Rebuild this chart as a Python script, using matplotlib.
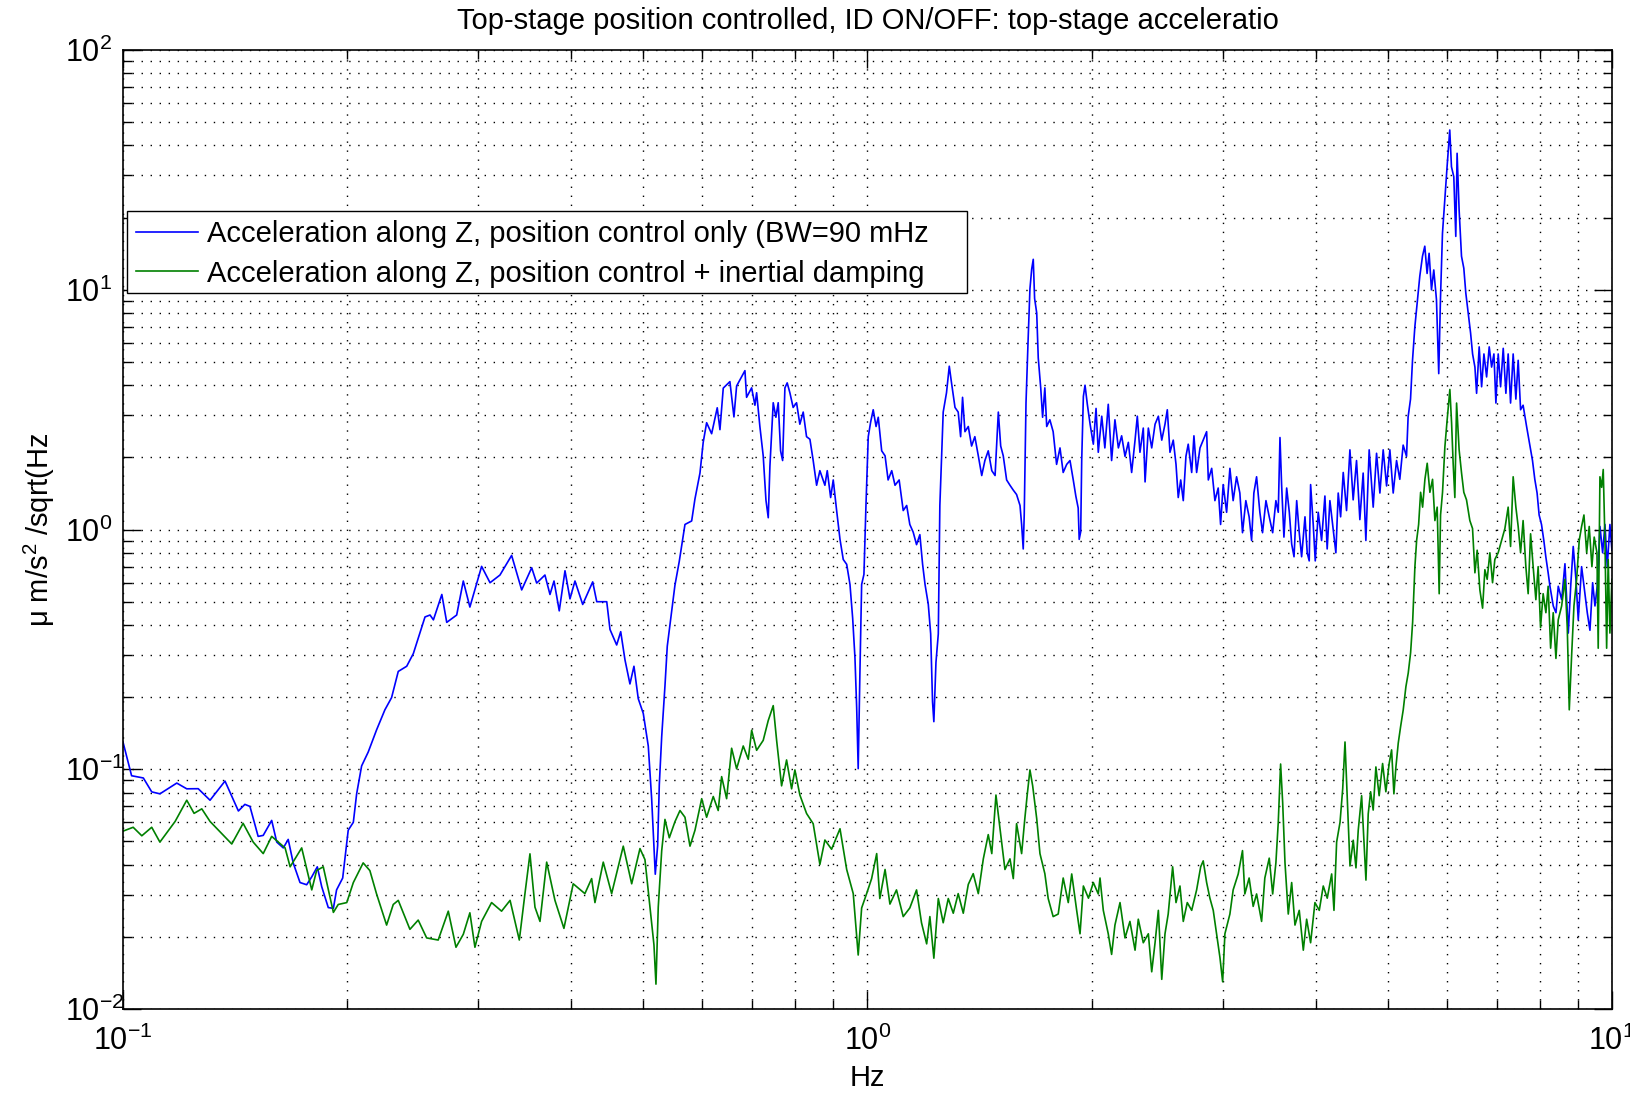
import matplotlib
matplotlib.use("Agg")
import matplotlib.pyplot as plt
from matplotlib.ticker import LogLocator, NullFormatter
from matplotlib.patches import Rectangle

# spectrum: frequency (Hz) and acceleration (um/s^2/sqrt(Hz))
freq_blue = [
    0.1000, 0.1027, 0.1065, 0.1093, 0.1121, 0.1181, 0.1218, 0.1262, 0.1309, 0.1371,
    0.1429, 0.1458, 0.1481, 0.1519, 0.1543, 0.1584, 0.1609, 0.1642, 0.1667, 0.1693,
    0.1729, 0.1765, 0.1793, 0.1824, 0.1849, 0.1887, 0.1917, 0.1936, 0.1973, 0.1987,
    0.2007, 0.2039, 0.2060, 0.2092, 0.2135, 0.2191, 0.2248, 0.2295, 0.2343, 0.2405,
    0.2455, 0.2545, 0.2585, 0.2612, 0.2681, 0.2722, 0.2807, 0.2865, 0.2924, 0.3032,
    0.3112, 0.3209, 0.3327, 0.3432, 0.3540, 0.3595, 0.3688, 0.3746, 0.3793, 0.3855,
    0.3924, 0.3985, 0.4047, 0.4145, 0.4275, 0.4329, 0.4465, 0.4510, 0.4604, 0.4662,
    0.4724, 0.4797, 0.4857, 0.4922, 0.4999, 0.5077, 0.5130, 0.5167, 0.5188, 0.5226,
    0.5253, 0.5292, 0.5346, 0.5384, 0.5429, 0.5513, 0.5587, 0.5687, 0.5806, 0.5865,
    0.5957, 0.6017, 0.6081, 0.6176, 0.6284, 0.6337, 0.6402, 0.6535, 0.6617, 0.6672,
    0.6846, 0.6881, 0.6989, 0.7061, 0.7098, 0.7170, 0.7244, 0.7306, 0.7358, 0.7396,
    0.7472, 0.7534, 0.7588, 0.7644, 0.7692, 0.7747, 0.7802, 0.7867, 0.7947, 0.8031,
    0.8113, 0.8198, 0.8283, 0.8370, 0.8455, 0.8545, 0.8632, 0.8767, 0.8831, 0.8924,
    0.8996, 0.9091, 0.9186, 0.9279, 0.9378, 0.9474, 0.9553, 0.9621, 0.9672, 0.9718,
    0.9770, 0.9822, 0.9892, 0.9954, 1.0025, 1.010, 1.018, 1.027, 1.034, 1.045,
    1.056, 1.066, 1.078, 1.089, 1.103, 1.117, 1.129, 1.140, 1.152, 1.164,
    1.176, 1.186, 1.195, 1.207, 1.216, 1.223, 1.228, 1.236, 1.245, 1.251,
    1.264, 1.277, 1.288, 1.297, 1.311, 1.324, 1.334, 1.342, 1.352, 1.366,
    1.380, 1.394, 1.409, 1.424, 1.438, 1.453, 1.469, 1.484, 1.499, 1.510,
    1.522, 1.538, 1.554, 1.570, 1.586, 1.603, 1.611, 1.619, 1.624, 1.633,
    1.644, 1.653, 1.662, 1.670, 1.677, 1.688, 1.696, 1.709, 1.719, 1.731,
    1.741, 1.758, 1.776, 1.795, 1.814, 1.832, 1.852, 1.871, 1.890, 1.905,
    1.919, 1.925, 1.934, 1.940, 1.950, 1.960, 1.974, 1.991, 2.011, 2.028,
    2.042, 2.064, 2.084, 2.106, 2.128, 2.150, 2.173, 2.195, 2.218, 2.241,
    2.264, 2.288, 2.304, 2.323, 2.347, 2.360, 2.384, 2.409, 2.434, 2.459,
    2.485, 2.510, 2.528, 2.549, 2.575, 2.597, 2.615, 2.635, 2.656, 2.678,
    2.697, 2.726, 2.745, 2.768, 2.797, 2.825, 2.855, 2.870, 2.900, 2.929,
    2.959, 2.981, 3.005, 3.037, 3.068, 3.099, 3.132, 3.164, 3.190, 3.223,
    3.256, 3.281, 3.304, 3.332, 3.366, 3.394, 3.430, 3.465, 3.502, 3.537,
    3.563, 3.582, 3.600, 3.626, 3.657, 3.687, 3.714, 3.741, 3.772, 3.802,
    3.830, 3.870, 3.897, 3.921, 3.938, 3.970, 3.995, 4.032, 4.074, 4.116,
    4.145, 4.180, 4.216, 4.258, 4.289, 4.321, 4.356, 4.401, 4.447, 4.492,
    4.539, 4.586, 4.633, 4.672, 4.720, 4.779, 4.829, 4.879, 4.929, 4.981,
    5.032, 5.084, 5.137, 5.189, 5.243, 5.298, 5.324, 5.364, 5.397, 5.436,
    5.475, 5.520, 5.566, 5.606, 5.646, 5.681, 5.723, 5.764, 5.812, 5.853,
    5.884, 5.921, 5.963, 6.006, 6.056, 6.088, 6.132, 6.170, 6.195, 6.234,
    6.280, 6.325, 6.364, 6.412, 6.459, 6.499, 6.546, 6.580, 6.633, 6.683,
    6.731, 6.787, 6.842, 6.893, 6.942, 6.985, 7.035, 7.087, 7.145, 7.204,
    7.255, 7.309, 7.368, 7.430, 7.483, 7.539, 7.598, 7.679, 7.757, 7.822,
    7.878, 7.934, 7.984, 8.043, 8.101, 8.151, 8.210, 8.256, 8.341, 8.411,
    8.471, 8.561, 8.648, 8.738, 8.803, 8.872, 8.947, 9.011, 9.105, 9.200,
    9.266, 9.343, 9.421, 9.489, 9.557, 9.637, 9.717, 9.787, 9.857, 9.938,
    10.0,
]
acc_blue = [
    0.130, 0.094, 0.092, 0.0805, 0.079, 0.0876, 0.0829, 0.083, 0.0743, 0.0893,
    0.067, 0.0714, 0.070, 0.0525, 0.053, 0.0612, 0.0497, 0.047, 0.051, 0.0407,
    0.0337, 0.033, 0.0356, 0.0392, 0.0324, 0.0265, 0.0263, 0.0314, 0.0352, 0.0426,
    0.0557, 0.0601, 0.079, 0.1033, 0.118, 0.146, 0.177, 0.199, 0.256, 0.269,
    0.304, 0.432, 0.44, 0.42, 0.536, 0.41, 0.44, 0.61, 0.475, 0.702,
    0.60, 0.646, 0.78, 0.56, 0.693, 0.598, 0.646, 0.536, 0.61, 0.458,
    0.673, 0.514, 0.61, 0.487, 0.605, 0.50, 0.50, 0.383, 0.33, 0.375,
    0.286, 0.227, 0.269, 0.197, 0.171, 0.125, 0.0756, 0.0478, 0.0365, 0.048,
    0.0862, 0.1367, 0.223, 0.326, 0.40, 0.585, 0.735, 1.05, 1.086, 1.34,
    1.72, 2.31, 2.79, 2.51, 3.22, 2.61, 3.89, 4.14, 2.95, 3.97,
    4.60, 3.56, 3.90, 3.30, 3.72, 2.69, 2.03, 1.325, 1.12, 1.84,
    3.38, 2.94, 3.38, 2.13, 1.94, 3.90, 4.09, 3.72, 3.23, 3.38,
    2.75, 3.09, 2.44, 2.38, 1.94, 1.53, 1.76, 1.53, 1.76, 1.36,
    1.61, 1.20, 0.91, 0.75, 0.716, 0.59, 0.427, 0.292, 0.1816, 0.1006,
    0.254, 0.59, 0.65, 1.26, 2.44, 2.81, 3.16, 2.69, 2.94, 2.13,
    2.03, 1.61, 1.76, 1.53, 1.61, 1.20, 1.26, 1.05, 0.975, 0.865,
    0.952, 0.716, 0.59, 0.488, 0.367, 0.1913, 0.158, 0.279, 0.367, 1.26,
    3.09, 3.72, 4.80, 4.09, 3.23, 3.09, 2.44, 3.56, 2.56, 2.69,
    2.23, 2.44, 2.03, 1.68, 1.94, 2.13, 1.76, 1.68, 3.09, 2.23,
    2.03, 1.61, 1.53, 1.46, 1.40, 1.26, 1.05, 0.83, 1.15, 3.38,
    6.3, 10.1, 12.2, 13.4, 9.2, 8.0, 5.2, 3.90, 2.94, 3.90,
    2.69, 2.87, 2.56, 1.87, 2.19, 1.73, 1.87, 1.94, 1.61, 1.38,
    1.23, 0.91, 0.98, 1.94, 3.59, 4.0, 3.33, 2.75, 2.27, 3.2,
    2.1, 2.97, 2.19, 3.33, 1.94, 2.87, 2.19, 2.46, 2.02, 2.31,
    1.73, 2.36, 2.97, 2.1, 2.65, 1.58, 2.65, 2.19, 2.75, 2.97,
    2.36, 2.75, 3.16, 2.1, 2.36, 1.87, 1.36, 1.61, 1.32, 2.02,
    2.27, 1.73, 2.46, 1.73, 2.19, 2.36, 2.56, 1.61, 1.80, 1.32,
    1.49, 1.05, 1.54, 1.18, 1.80, 1.32, 1.66, 1.42, 0.97, 1.32,
    1.13, 0.90, 1.42, 1.66, 1.18, 0.97, 1.32, 1.13, 0.97, 1.32,
    1.18, 2.42, 1.54, 0.93, 1.49, 1.18, 0.87, 0.77, 1.32, 0.97,
    0.77, 1.13, 0.80, 0.74, 1.54, 1.05, 0.74, 1.18, 0.90, 1.38,
    0.83, 1.32, 1.05, 0.80, 1.42, 1.13, 1.73, 1.20, 2.15, 1.33,
    1.94, 1.10, 1.72, 0.90, 2.15, 1.24, 2.08, 1.42, 2.15, 1.52,
    2.15, 1.42, 1.94, 1.62, 2.25, 2.02, 2.95, 3.5, 5.08, 7.0,
    8.8, 11.4, 13.8, 15.2, 11.7, 14.2, 10.0, 12.1, 9.1, 4.47,
    9.1, 17.2, 23.7, 32.6, 46.4, 32.6, 29.6, 16.7, 37.1, 21.5,
    13.8, 12.3, 9.7, 8.0, 6.6, 5.4, 4.76, 3.7, 5.78, 3.94,
    5.4, 4.33, 5.78, 4.76, 5.4, 3.37, 5.4, 3.94, 5.7, 3.7,
    5.4, 3.37, 5.4, 3.5, 5.08, 3.16, 3.3, 2.7, 2.25, 1.94,
    1.62, 1.42, 1.15, 1.05, 0.90, 0.77, 0.66, 0.58, 0.48, 0.45,
    0.58, 0.51, 0.72, 0.37, 0.58, 0.85, 0.62, 0.42, 0.70, 0.54,
    0.45, 0.38, 0.60, 0.48, 0.58, 1.03, 0.80, 1.05, 0.70, 1.05,
    0.82,
]

freq_green = [
    0.1000, 0.1032, 0.1060, 0.1093, 0.1121, 0.1175, 0.1218, 0.1246, 0.1276, 0.1309,
    0.1400, 0.1450, 0.1496, 0.1543, 0.1584, 0.1651, 0.1677, 0.1738, 0.1793, 0.1820,
    0.1858, 0.1917, 0.1946, 0.1998, 0.2039, 0.2102, 0.2146, 0.2191, 0.2260, 0.2307,
    0.2343, 0.2429, 0.2492, 0.2558, 0.2651, 0.2735, 0.2801, 0.2865, 0.2924, 0.2970,
    0.3032, 0.3127, 0.3225, 0.3311, 0.3407, 0.3467, 0.3521, 0.3576, 0.3632, 0.3708,
    0.3804, 0.3911, 0.4025, 0.4173, 0.4261, 0.4305, 0.4417, 0.4533, 0.4699, 0.4823,
    0.4948, 0.5025, 0.5104, 0.5167, 0.5199, 0.5236, 0.5292, 0.5346, 0.5418, 0.5514,
    0.5600, 0.5687, 0.5776, 0.5866, 0.5989, 0.6081, 0.6207, 0.6303, 0.6370, 0.6469,
    0.6570, 0.6672, 0.6810, 0.6917, 0.6990, 0.7098, 0.7244, 0.7357, 0.7472, 0.7551,
    0.7668, 0.7787, 0.7909, 0.7990, 0.8114, 0.8284, 0.8455, 0.8632, 0.8767, 0.8950,
    0.9186, 0.9378, 0.9570, 0.9718, 0.9822, 0.9975, 1.013, 1.029, 1.039, 1.056,
    1.072, 1.094, 1.117, 1.140, 1.164, 1.182, 1.201, 1.213, 1.228, 1.245,
    1.264, 1.284, 1.304, 1.324, 1.345, 1.366, 1.387, 1.409, 1.431, 1.453,
    1.469, 1.488, 1.507, 1.530, 1.554, 1.570, 1.586, 1.611, 1.627, 1.639,
    1.653, 1.667, 1.688, 1.705, 1.731, 1.749, 1.776, 1.804, 1.832, 1.861,
    1.881, 1.910, 1.930, 1.950, 1.981, 2.011, 2.042, 2.053, 2.074, 2.106,
    2.128, 2.150, 2.184, 2.218, 2.252, 2.288, 2.311, 2.347, 2.384, 2.409,
    2.434, 2.459, 2.485, 2.510, 2.535, 2.570, 2.597, 2.629, 2.656, 2.689,
    2.726, 2.768, 2.803, 2.825, 2.855, 2.884, 2.914, 2.944, 2.975, 3.000,
    3.021, 3.068, 3.099, 3.148, 3.190, 3.213, 3.256, 3.297, 3.332, 3.384,
    3.418, 3.465, 3.502, 3.537, 3.563, 3.589, 3.612, 3.638, 3.675, 3.714,
    3.752, 3.802, 3.850, 3.890, 3.938, 3.991, 4.045, 4.095, 4.146, 4.203,
    4.233, 4.268, 4.313, 4.349, 4.380, 4.411, 4.448, 4.493, 4.531, 4.563,
    4.611, 4.644, 4.673, 4.706, 4.741, 4.779, 4.819, 4.868, 4.920, 4.970,
    5.021, 5.059, 5.095, 5.127, 5.164, 5.202, 5.244, 5.288, 5.326, 5.365,
    5.399, 5.437, 5.466, 5.500, 5.534, 5.568, 5.608, 5.648, 5.695, 5.742,
    5.784, 5.825, 5.861, 5.886, 5.922, 5.965, 6.008, 6.058, 6.090, 6.120,
    6.152, 6.185, 6.234, 6.281, 6.325, 6.378, 6.444, 6.498, 6.546, 6.592,
    6.647, 6.703, 6.751, 6.799, 6.856, 6.913, 6.962, 7.034, 7.108, 7.182,
    7.255, 7.309, 7.368, 7.430, 7.483, 7.539, 7.598, 7.663, 7.718, 7.776,
    7.838, 7.904, 7.960, 8.019, 8.084, 8.153, 8.210, 8.273, 8.340, 8.410,
    8.470, 8.560, 8.648, 8.710, 8.764, 8.829, 8.892, 8.966, 9.038, 9.105,
    9.171, 9.249, 9.322, 9.400, 9.467, 9.548, 9.585, 9.636, 9.688, 9.735,
    9.787, 9.838, 9.886, 9.938, 10.0,
]
acc_green = [
    0.0552, 0.0573, 0.0528, 0.0573, 0.0497, 0.0606, 0.0743, 0.0655, 0.0684, 0.0606,
    0.0488, 0.0595, 0.0497, 0.0445, 0.0525, 0.047, 0.0392, 0.047, 0.0314, 0.0378,
    0.0392, 0.0253, 0.0273, 0.0278, 0.0337, 0.0407, 0.0378, 0.0302, 0.0224, 0.0273,
    0.0284, 0.0215, 0.0235, 0.0198, 0.0194, 0.0256, 0.0181, 0.0205, 0.0252, 0.0181,
    0.0232, 0.0278, 0.0256, 0.0284, 0.0194, 0.0303, 0.0444, 0.0266, 0.0232, 0.0410,
    0.0284, 0.0217, 0.0333, 0.0303, 0.0350, 0.0278, 0.0410, 0.0303, 0.0478, 0.0333,
    0.0467, 0.0420, 0.0266, 0.0185, 0.0127, 0.0266, 0.0457, 0.0618, 0.0518, 0.0605,
    0.0673, 0.0631, 0.0478, 0.0557, 0.0754, 0.0631, 0.0770, 0.0673, 0.0932, 0.0754,
    0.1224, 0.1005, 0.1251, 0.1101, 0.1455, 0.120, 0.132, 0.1596, 0.1843, 0.132,
    0.0853, 0.1094, 0.0829, 0.0994, 0.0781, 0.0654, 0.0593, 0.0401, 0.0507, 0.0464,
    0.0565, 0.0382, 0.0303, 0.0168, 0.0264, 0.0303, 0.0350, 0.0445, 0.0289, 0.0382,
    0.0274, 0.0314, 0.0243, 0.0264, 0.0314, 0.0229, 0.0187, 0.0243, 0.0163, 0.0289,
    0.0229, 0.0289, 0.0251, 0.0303, 0.0251, 0.0331, 0.0367, 0.0303, 0.0423, 0.0534,
    0.0445, 0.0781, 0.0565, 0.0382, 0.0423, 0.0350, 0.0593, 0.0445, 0.0622, 0.0781,
    0.0994, 0.0853, 0.0622, 0.0445, 0.0367, 0.0289, 0.0243, 0.0249, 0.0352, 0.0278,
    0.0366, 0.0258, 0.0206, 0.0326, 0.0290, 0.0337, 0.0302, 0.0352, 0.0258, 0.0206,
    0.0169, 0.0224, 0.0278, 0.0198, 0.0232, 0.0176, 0.0237, 0.0189, 0.0206, 0.0143,
    0.0189, 0.0258, 0.0133, 0.0206, 0.0249, 0.0392, 0.0278, 0.0326, 0.0232, 0.0278,
    0.0258, 0.0314, 0.0392, 0.0415, 0.0337, 0.0290, 0.0258, 0.0206, 0.0164, 0.0130,
    0.0206, 0.0249, 0.0314, 0.0366, 0.0458, 0.0302, 0.0352, 0.0268, 0.0302, 0.0232,
    0.0352, 0.0426, 0.0302, 0.0407, 0.0601, 0.1052, 0.0726, 0.0407, 0.0249, 0.0337,
    0.0224, 0.0258, 0.0176, 0.0237, 0.0189, 0.0278, 0.0258, 0.0326, 0.0290, 0.0366,
    0.0258, 0.0497, 0.0601, 0.0830, 0.130, 0.0761, 0.0395, 0.0506, 0.0388, 0.0557,
    0.0776, 0.0506, 0.0345, 0.0651, 0.0806, 0.0676, 0.1023, 0.0776, 0.1057, 0.0806,
    0.1057, 0.1205, 0.0790, 0.1023, 0.1286, 0.1507, 0.1768, 0.2213, 0.2520, 0.306,
    0.411, 0.70, 0.90, 1.05, 1.43, 1.24, 1.62, 1.89, 1.43, 1.62,
    1.09, 1.24, 0.54, 1.15, 1.43, 2.21, 2.88, 3.84, 2.79, 1.89,
    1.36, 3.37, 2.15, 1.72, 1.43, 1.33, 1.09, 1.01, 0.66, 0.82,
    0.56, 0.47, 0.68, 0.62, 0.80, 0.60, 0.75, 0.80, 0.90, 1.01,
    1.24, 0.85, 1.66, 1.24, 1.03, 0.80, 1.09, 0.70, 0.54, 0.96,
    0.70, 0.51, 0.70, 0.39, 0.54, 0.45, 0.58, 0.32, 0.45, 0.29,
    0.42, 0.48, 0.62, 0.39, 0.177, 0.30, 0.48, 0.62, 0.90, 1.03,
    1.15, 0.80, 1.03, 0.70, 0.93, 0.80, 0.32, 1.66, 1.5, 1.78,
    0.90, 0.32, 0.75, 0.37, 0.62,
]

label_blue = "Acceleration along Z, position control only (BW=90 mHz"
label_green = "Acceleration along Z, position control + inertial damping"

plt.rcParams['font.family'] = ['Liberation Sans', 'DejaVu Sans']
plt.rcParams['mathtext.fontset'] = 'custom'
plt.rcParams['mathtext.rm'] = 'Liberation Sans'
plt.rcParams['mathtext.it'] = 'Liberation Sans:italic'
plt.rcParams['mathtext.default'] = 'regular'

fig = plt.figure(figsize=(16.31, 10.95), dpi=100)
ax = fig.add_axes([0.0754, 0.0785, 0.9129, 0.8758])

ax.loglog(freq_blue, acc_blue, color='#0000ff', lw=1.2, label=label_blue)
ax.loglog(freq_green, acc_green, color='#008000', lw=1.2, label=label_green)

ax.set_xlim(0.1, 10)
ax.set_ylim(0.01, 100)
ax.xaxis.set_minor_locator(LogLocator(base=10, subs=range(2, 10)))
ax.yaxis.set_minor_locator(LogLocator(base=10, subs=range(2, 10)))
ax.xaxis.set_minor_formatter(NullFormatter())
ax.yaxis.set_minor_formatter(NullFormatter())

# matlab style dotted grid
ax.grid(True, which='both', color='k', linestyle=(0, (1, 5.5)), linewidth=1.0)
ax.set_axisbelow(True)

ax.tick_params(which='both', direction='in', top=True, right=True, width=1.0,
               labelsize=22, colors='k')
ax.tick_params(which='major', length=13)
ax.tick_params(which='minor', length=6.5)
ax.tick_params(axis='x', pad=12)
# y tick labels start at a common left edge, like matlab
ax.tick_params(axis='y', pad=42)
for lab in ax.get_yticklabels():
    lab.set_horizontalalignment('left')
for s in ax.spines.values():
    s.set_linewidth(1.2)

ax.set_title("Top-stage position controlled, ID ON/OFF: top-stage acceleratio",
             fontsize=21, pad=15)
ax.set_xlabel("Hz", fontsize=21)
ax.xaxis.set_label_coords(0.5, -0.057)
ax.set_ylabel("μ m/s$^2$ /sqrt(Hz", fontsize=21)
ax.yaxis.set_label_coords(-0.044, 0.5)

# legend box (matlab leaves extra room on the right)
ax.add_patch(Rectangle((0.0027, 0.7466), 0.5641, 0.0854, transform=ax.transAxes,
                       facecolor='white', edgecolor='k', lw=1.0, zorder=4))
leg = ax.legend(loc='upper left', bbox_to_anchor=(0.0027, 0.832), borderaxespad=0,
                frameon=False, fontsize=21, handlelength=2.13, handletextpad=0.28,
                borderpad=0.32, labelspacing=0.38)
leg.set_zorder(5)

fig.savefig("out.png", dpi=100)
